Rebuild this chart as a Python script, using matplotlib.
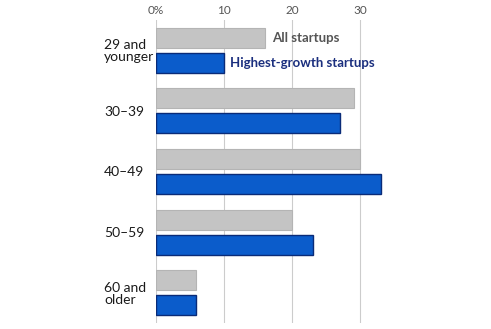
import matplotlib.pyplot as plt
import numpy as np

age_groups = ["29 and\nyounger", "30\u201339", "40\u201349", "50\u201359", "60 and\nolder"]
all_startups = [16, 29, 30, 20, 6]
top_startups = [10, 27, 33, 23, 6]
x_ticks = [0, 10, 20, 30]
x_tick_labels = ["0%", "10", "20", "30"]

plt.rcParams["font.family"] = ["Lato", "DejaVu Sans"]

fig = plt.figure(figsize=(4.91, 3.29), dpi=100)
ax = fig.add_axes([155.5 / 491, 6 / 329, 239 / 491, 303 / 329])

y = np.arange(len(age_groups))
offset = 0.205
height = 0.33

ax.barh(y - offset, all_startups, height=height, color="#c4c4c4",
        edgecolor="#b4b4b4", linewidth=0.8, zorder=3)
ax.barh(y + offset, top_startups, height=height, color="#0b5ccb",
        edgecolor="#0a2b78", linewidth=1.0, zorder=3)

ax.set_xlim(0, 35)
ax.set_ylim(len(age_groups) - 0.5, -0.5)

ax.set_xticks(x_ticks)
ax.set_xticklabels(x_tick_labels)
ax.xaxis.tick_top()
ax.tick_params(axis="x", length=0, pad=3, labelsize=8.5, labelcolor="#555555")
ax.grid(axis="x", color="#cccccc", linewidth=0.8, zorder=0)

ax.set_yticks(y)
ax.set_yticklabels(age_groups, ha="left", fontsize=10, color="#1a1a1a",
                   linespacing=1.0)
ax.tick_params(axis="y", length=0, pad=37)

for side in ax.spines.values():
    side.set_visible(False)

ax.text(all_startups[0] + 1.1, y[0] - offset, "All startups", va="center",
        ha="left", fontsize=9.5, fontweight="bold", color="#555555")
ax.text(top_startups[0] + 0.9, y[0] + offset, "Highest-growth startups",
        va="center", ha="left", fontsize=9.5, fontweight="bold",
        color="#1b2f7e")

fig.savefig("out.png", dpi=100)
